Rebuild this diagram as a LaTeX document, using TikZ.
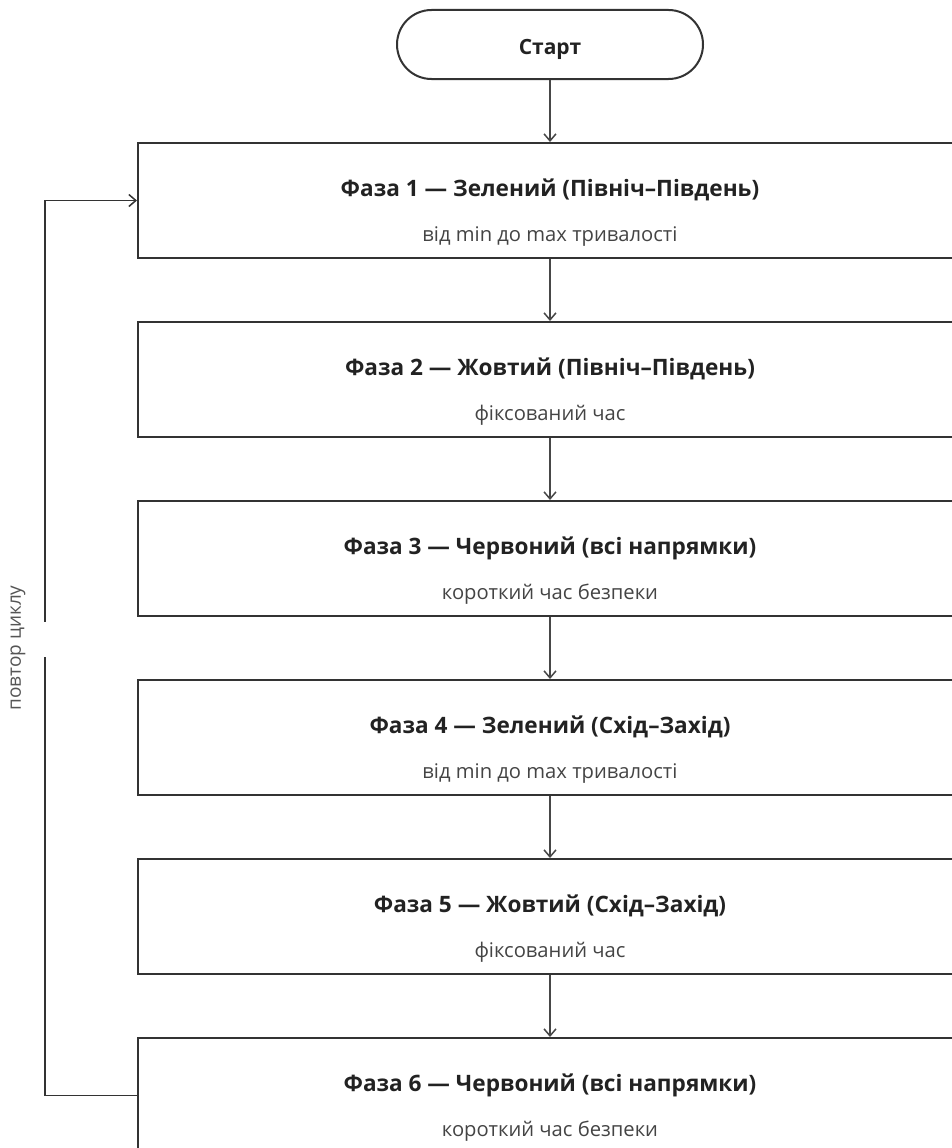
\documentclass[tikz,border=0pt]{standalone}
\usepackage{fontspec}
\setmainfont{Open Sans}
\usetikzlibrary{arrows.meta,calc}
\definecolor{edge}{HTML}{333333}
\definecolor{titletxt}{HTML}{222222}
\definecolor{subtxt}{HTML}{444444}
\definecolor{looptxt}{HTML}{555555}
\tikzset{
  phasebox/.style={draw=edge, line width=2pt, minimum width=824pt, minimum height=115pt, inner sep=0pt},
  startbox/.style={draw=edge, line width=2pt, minimum width=306pt, minimum height=69pt, rounded corners=34.5pt, inner sep=0pt},
  ttl/.style={font=\fontsize{22.6}{26}\selectfont\bfseries, text=titletxt, inner sep=0pt, anchor=base},
  sub/.style={font=\fontsize{20.2}{23}\selectfont, text=subtxt, inner sep=0pt, anchor=base},
  flow/.style={draw=edge!90, line width=1.5pt, -{Straight Barb[length=7pt,width=12pt,line width=1.5pt]}},
  loopline/.style={draw=edge, line width=1.5pt},
}
\begin{document}
\begin{tikzpicture}[x=1pt,y=-1pt]
\useasboundingbox (0,0) rectangle (951,1148);
\node[startbox] (start) at (550,44.5) {};
\node[font=\fontsize{21}{25}\selectfont\bfseries, text=titletxt, inner sep=0pt, anchor=base] (starttxt) at ($(start.center)+(0,10)$) {Старт};
\foreach \i/\t/\s in {1/{Фаза 1 — Зелений (Північ–Південь)}/{від min до max тривалості},
                      2/{Фаза 2 — Жовтий (Північ–Південь)}/{фіксований час},
                      3/{Фаза 3 — Червоний (всі напрямки)}/{короткий час безпеки},
                      4/{Фаза 4 — Зелений (Схід–Захід)}/{від min до max тривалості},
                      5/{Фаза 5 — Жовтий (Схід–Захід)}/{фіксований час},
                      6/{Фаза 6 — Червоний (всі напрямки)}/{короткий час безпеки}}{
  \node[phasebox] (b\i) at (550,{200.5+179*(\i-1)}) {};
  \node[ttl] (t\i) at ($(b\i.north)+(0,54)$) {\t};
  \node[sub] (s\i) at ($(b\i.north)+(0,99)$) {\s};
}
\draw[flow] (start) -- (b1);
\draw[flow] (b1) -- (b2);
\draw[flow] (b2) -- (b3);
\draw[flow] (b3) -- (b4);
\draw[flow] (b4) -- (b5);
\draw[flow] (b5) -- (b6);
\node[inner sep=0pt, minimum height=35pt, minimum width=1pt] (gap) at (45,639.5) {};
\draw[loopline] (b6.west) -| (gap.south);
\draw[loopline, -{Straight Barb[length=7pt,width=12pt,line width=1.5pt]}] (gap.north) |- (b1.west);
\node[rotate=90, font=\fontsize{19}{22}\selectfont, text=looptxt, inner sep=0pt] (lbl) at (18,648) {повтор циклу};
\end{tikzpicture}
\end{document}
